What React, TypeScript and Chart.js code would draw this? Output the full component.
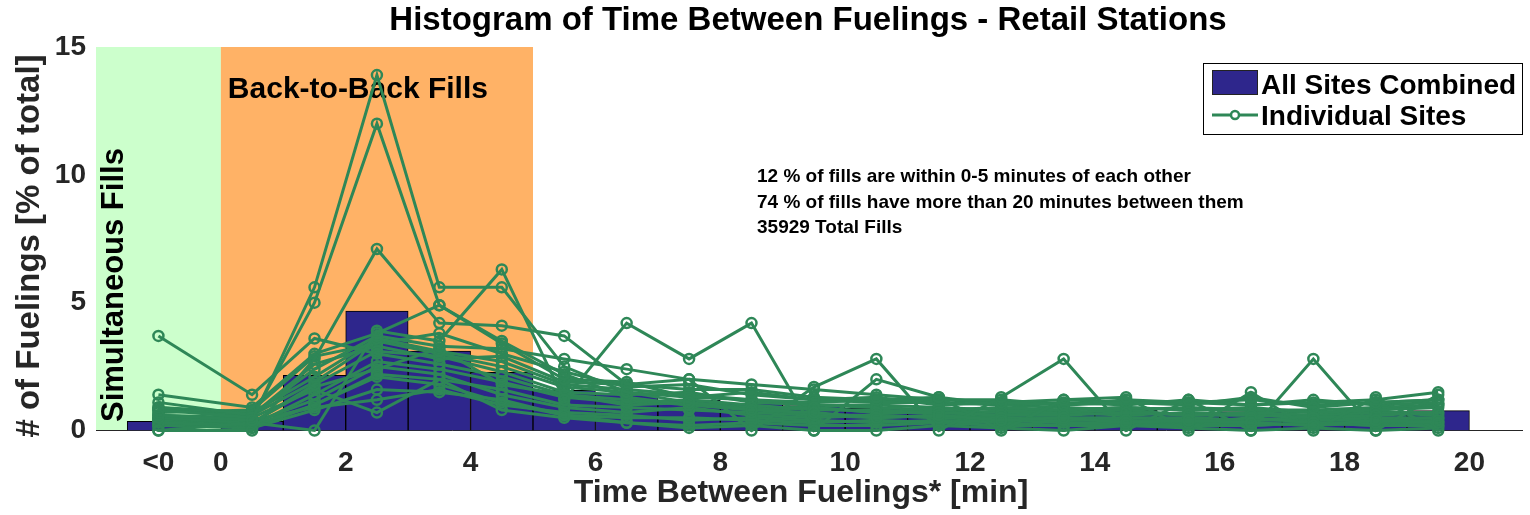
import React, { useEffect, useRef } from "react";
import { Chart, registerables } from "chart.js";

Chart.register(...registerables);

const FONT = "'Liberation Sans', Arial, Helvetica, sans-serif";

// ---- data ----
const binCenters = [-1, 0.5, 1.5, 2.5, 3.5, 4.5, 5.5, 6.5, 7.5, 8.5, 9.5, 10.5, 11.5, 12.5, 13.5, 14.5, 15.5, 16.5, 17.5, 18.5, 19.5];
const allSitesPct = [0.36, 0.36, 2.16, 4.67, 3.11, 2.28, 1.57, 1.43, 1.19, 1.06, 0.97, 0.88, 0.86, 0.75, 0.74, 0.8, 0.71, 0.74, 0.65, 0.71, 0.78];

const siteA = [0.6, 0.4, 5.6, 13.9, 5.6, 5.6, 2.5, 1.5, 1.1, 0.8, 0.7, 0.5, 0.6, 0.4, 0.5, 0.3, 0.4, 0.3, 0.2, 0.4, 0.3];
const siteB = [0.8, 0.5, 5.0, 12.0, 4.9, 3.5, 2.2, 1.3, 1.0, 0.9, 0.6, 0.6, 0.5, 0.5, 0.4, 0.4, 0.3, 0.5, 0.3, 0.3, 0.4];
const siteC = [0.0, 0.0, 2.8, 7.1, 4.2, 4.1, 3.7, 1.8, 2.0, 0.0, 1.7, 2.8, 0.0, 1.3, 2.8, 0.0, 1.2, 0.0, 2.8, 0.0, 1.4];
const siteD = [0.0, 0.3, 0.0, 3.9, 3.5, 6.3, 1.2, 4.2, 2.8, 4.2, 0.0, 2.0, 1.3, 0.0, 1.2, 1.3, 0.0, 1.5, 0.0, 1.3, 0.0];
const siteE = [3.7, 1.4, 3.6, 3.0, 2.6, 2.1, 1.4, 1.2, 1.0, 0.8, 0.9, 0.7, 0.7, 0.6, 0.6, 0.7, 0.6, 0.6, 0.5, 0.6, 0.7];
const siteF = [1.4, 0.9, 3.0, 3.8, 4.9, 3.4, 2.0, 1.9, 1.3, 1.5, 1.2, 1.3, 1.0, 1.1, 1.0, 1.1, 1.0, 1.3, 0.9, 1.1, 1.2];
const siteG = [1.1, 0.6, 2.4, 3.7, 3.3, 3.2, 2.8, 2.4, 2.0, 1.8, 1.6, 1.4, 1.2, 1.2, 1.0, 1.2, 1.1, 1.0, 1.1, 1.2, 1.5];
const siteH = [0.9, 0.7, 2.1, 3.6, 3.1, 2.7, 1.8, 1.6, 1.4, 1.2, 1.1, 1.2, 1.3, 1.0, 1.1, 1.0, 1.2, 1.0, 1.2, 1.0, 1.1];
const siteI = [0.5, 0.3, 1.8, 3.1, 2.9, 2.3, 1.5, 1.4, 1.5, 1.1, 1.0, 0.9, 0.8, 0.9, 0.8, 0.9, 0.8, 0.9, 0.7, 0.8, 0.9];
const siteJ = [0.3, 0.2, 1.4, 2.7, 2.4, 1.9, 1.3, 1.1, 1.2, 1.0, 0.8, 0.8, 0.7, 0.6, 0.7, 0.8, 0.6, 0.7, 0.6, 0.7, 0.6];
const siteK = [0.2, 0.2, 1.0, 2.2, 2.0, 1.6, 1.0, 0.9, 0.8, 0.7, 0.6, 0.5, 0.6, 0.5, 0.5, 0.5, 0.5, 0.4, 0.5, 0.5, 0.5];
const siteL = [0.4, 0.1, 0.8, 1.6, 1.5, 1.2, 0.6, 0.5, 0.5, 0.4, 0.3, 0.4, 0.3, 0.4, 0.3, 0.3, 0.3, 0.3, 0.2, 0.3, 0.3];
const siteM = [0.6, 0.5, 1.6, 0.7, 2.0, 0.8, 0.5, 0.3, 0.2, 0.3, 0.2, 0.2, 0.3, 0.2, 0.2, 0.2, 0.2, 0.2, 0.3, 0.2, 0.2];
const siteN = [0.7, 0.8, 2.9, 3.4, 3.8, 3.0, 2.3, 1.7, 1.8, 1.4, 1.2, 1.1, 1.1, 1.0, 0.9, 0.8, 0.9, 0.8, 0.8, 0.9, 1.0];
const siteO = [0.8, 0.6, 1.9, 3.5, 3.0, 2.5, 1.7, 1.5, 1.3, 1.2, 1.0, 1.0, 0.9, 0.8, 0.8, 0.9, 0.8, 0.8, 0.7, 0.8, 1.0];
const siteP = [0.2, 0.3, 1.2, 2.5, 2.2, 1.4, 0.9, 0.7, 0.9, 0.6, 0.5, 0.6, 0.5, 0.4, 0.4, 0.5, 0.4, 0.4, 0.4, 0.4, 0.5];
const siteQ = [0.5, 0.4, 0.9, 1.2, 1.6, 1.0, 0.7, 0.6, 0.4, 0.5, 0.4, 0.3, 0.4, 0.3, 0.2, 0.3, 0.3, 0.2, 0.3, 0.2, 0.2];
const siteR = [0.9, 0.6, 2.6, 3.3, 2.8, 2.9, 1.9, 1.8, 1.6, 1.6, 1.3, 1.2, 1.2, 1.1, 1.2, 1.1, 1.1, 1.2, 1.0, 1.1, 1.2];
const siteS = [0.4, 0.3, 1.7, 2.4, 3.2, 1.8, 1.4, 1.0, 1.1, 0.9, 0.9, 0.7, 0.8, 0.7, 0.7, 0.6, 0.7, 0.6, 0.6, 0.7, 0.7];
const siteT = [0.2, 0.1, 1.0, 2.1, 1.8, 1.1, 0.6, 0.3, 0.1, 0.2, 0.0, 0.0, 0.2, 0.1, 0.0, 0.2, 0.1, 0.0, 0.1, 0.0, 0.1];

const sites = [siteA, siteB, siteC, siteD, siteE, siteF, siteG, siteH, siteI, siteJ, siteK, siteL, siteM, siteN, siteO, siteP, siteQ, siteR, siteS, siteT];

const xTickValues = [-1, 0, 2, 4, 6, 8, 10, 12, 14, 16, 18, 20];
const xTickLabels = ["<0", "0", "2", "4", "6", "8", "10", "12", "14", "16", "18", "20"];
const yTickValues = [0, 5, 10, 15];

const simultaneousRange = [-2, 0];
const backToBackRange = [0, 5];

const titleText = "Histogram of Time Between Fuelings - Retail Stations";
const xTitle = "Time Between Fuelings* [min]";
const yTitle = "# of Fuelings [% of total]";
const notes = [
  "12 % of fills are within 0-5 minutes of each other",
  "74 % of fills have more than 20 minutes between them",
  "35929 Total Fills",
];
const legendLabels = ["All Sites Combined", "Individual Sites"];

const BAR_COLOR = "rgb(46,38,140)";
const GREEN = "rgb(46,135,87)";
const SIM_COLOR = "rgb(204,255,204)";
const B2B_COLOR = "rgb(255,178,102)";
const TEXT_DARK = "#262626";

const regionsPlugin = {
  id: "regions",
  beforeDraw(chart: any) {
    const { ctx, chartArea, scales } = chart;
    const x = scales.x;
    const { top, bottom, left, right } = chartArea;
    ctx.save();
    ctx.beginPath();
    ctx.rect(left, top, right - left, bottom - top);
    ctx.clip();
    const s0 = x.getPixelForValue(simultaneousRange[0]);
    const s1 = x.getPixelForValue(simultaneousRange[1]);
    ctx.fillStyle = SIM_COLOR;
    ctx.fillRect(s0, top, s1 - s0, bottom - top);
    const b0 = x.getPixelForValue(backToBackRange[0]);
    const b1 = x.getPixelForValue(backToBackRange[1]);
    ctx.fillStyle = B2B_COLOR;
    ctx.fillRect(b0, top, b1 - b0, bottom - top);
    ctx.restore();

    ctx.save();
    ctx.fillStyle = "#000";
    ctx.font = `bold 30px ${FONT}`;
    ctx.textAlign = "left";
    ctx.textBaseline = "alphabetic";
    ctx.fillText("Back-to-Back Fills", b0 + 7, 98);
    ctx.font = `bold 31px ${FONT}`;
    ctx.translate(123, 422);
    ctx.rotate(-Math.PI / 2);
    ctx.fillText("Simultaneous Fills", 0, 0);
    ctx.restore();
  },
};

const textPlugin = {
  id: "texts",
  afterDraw(chart: any) {
    const { ctx } = chart;
    ctx.save();
    ctx.fillStyle = "#000";
    ctx.textAlign = "center";
    ctx.textBaseline = "middle";
    ctx.font = `bold 33px ${FONT}`;
    ctx.fillText(titleText, 808, 21);

    ctx.fillStyle = TEXT_DARK;
    ctx.font = `bold 32px ${FONT}`;
    ctx.fillText(xTitle, 801, 493);

    ctx.save();
    ctx.font = `bold 33px ${FONT}`;
    ctx.translate(30, 246);
    ctx.rotate(-Math.PI / 2);
    ctx.fillText(yTitle, 0, 0);
    ctx.restore();

    // notes
    ctx.fillStyle = "#000";
    ctx.textAlign = "left";
    ctx.textBaseline = "alphabetic";
    ctx.font = `bold 19px ${FONT}`;
    notes.forEach((t, i) => ctx.fillText(t, 757, 182 + i * 25.5));

    // legend
    ctx.fillStyle = "#fff";
    ctx.fillRect(1203, 63, 319, 71);
    ctx.strokeStyle = "#000";
    ctx.lineWidth = 1;
    ctx.strokeRect(1203.5, 63.5, 319, 71);
    ctx.fillStyle = BAR_COLOR;
    ctx.fillRect(1212, 70, 46, 25);
    ctx.strokeStyle = "#222";
    ctx.strokeRect(1212.5, 70.5, 45, 24);
    ctx.strokeStyle = GREEN;
    ctx.lineWidth = 3;
    ctx.beginPath();
    ctx.moveTo(1212, 115);
    ctx.lineTo(1258, 115);
    ctx.stroke();
    ctx.lineWidth = 2.5;
    ctx.beginPath();
    ctx.arc(1235, 115, 4, 0, Math.PI * 2);
    ctx.fillStyle = "#fff";
    ctx.fill();
    ctx.stroke();
    ctx.fillStyle = "#000";
    ctx.font = `bold 28px ${FONT}`;
    ctx.fillText(legendLabels[0], 1261, 94);
    ctx.fillText(legendLabels[1], 1261, 125);
    ctx.restore();
  },
};

export default function App() {
  const ref = useRef<HTMLCanvasElement>(null);
  useEffect(() => {
    const barData = binCenters.map((x, i) => ({ x, y: allSitesPct[i] }));
    const lineSets = sites.map((vals, k) => ({
      type: "line" as const,
      label: `${legendLabels[1]} ${k + 1}`,
      data: binCenters.map((x, i) => ({ x, y: vals[i] })),
      borderColor: GREEN,
      borderWidth: 3,
      pointRadius: 5,
      pointBorderWidth: 2.5,
      pointBorderColor: GREEN,
      pointBackgroundColor: "rgba(0,0,0,0)",
      tension: 0,
      order: 1,
      clip: false as any,
    }));
    const chart = new Chart(ref.current as HTMLCanvasElement, {
      type: "bar",
      data: {
        datasets: [
          {
            type: "bar" as const,
            label: legendLabels[0],
            data: barData as any,
            backgroundColor: BAR_COLOR,
            borderColor: "#000",
            borderWidth: 1,
            barPercentage: 1,
            categoryPercentage: 1,
            order: 2,
          } as any,
          ...lineSets,
        ],
      },
      options: {
        responsive: false,
        animation: false,
        events: [],
        layout: { padding: { top: 47, right: 1, left: 0, bottom: 0 } },
        plugins: {
          legend: { display: false },
          tooltip: { enabled: false },
          title: { display: false },
        },
        scales: {
          x: {
            type: "linear",
            min: -2,
            max: 20.85,
            offset: false,
            grid: { display: false, drawTicks: false },
            border: { display: true, color: "#262626", width: 1 },
            afterBuildTicks: (scale: any) => {
              scale.ticks = xTickValues.map((v) => ({ value: v }));
            },
            afterFit: (scale: any) => {
              scale.height = 84.5;
            },
            ticks: {
              autoSkip: false,
              maxRotation: 0,
              padding: 16,
              color: TEXT_DARK,
              font: { family: FONT, size: 28, weight: "bold" },
              callback: (v: any) => {
                const idx = xTickValues.indexOf(Number(v));
                return idx >= 0 ? xTickLabels[idx] : "";
              },
            },
          },
          y: {
            type: "linear",
            min: 0,
            max: 15,
            grid: { display: false, drawTicks: false },
            border: { display: false },
            afterBuildTicks: (scale: any) => {
              scale.ticks = yTickValues.map((v) => ({ value: v }));
            },
            afterFit: (scale: any) => {
              scale.width = 96;
            },
            ticks: {
              padding: 10,
              color: TEXT_DARK,
              font: { family: FONT, size: 28, weight: "bold" },
            },
          },
        },
      },
      plugins: [regionsPlugin, textPlugin],
    } as any);
    return () => chart.destroy();
  }, []);
  return (
    <div style={{ position: "fixed", left: 0, top: 0, width: 1530, height: 515, background: "#fff" }}>
      <canvas ref={ref} width={1530} height={515} style={{ display: "block", width: 1530, height: 515 }} />
    </div>
  );
}
